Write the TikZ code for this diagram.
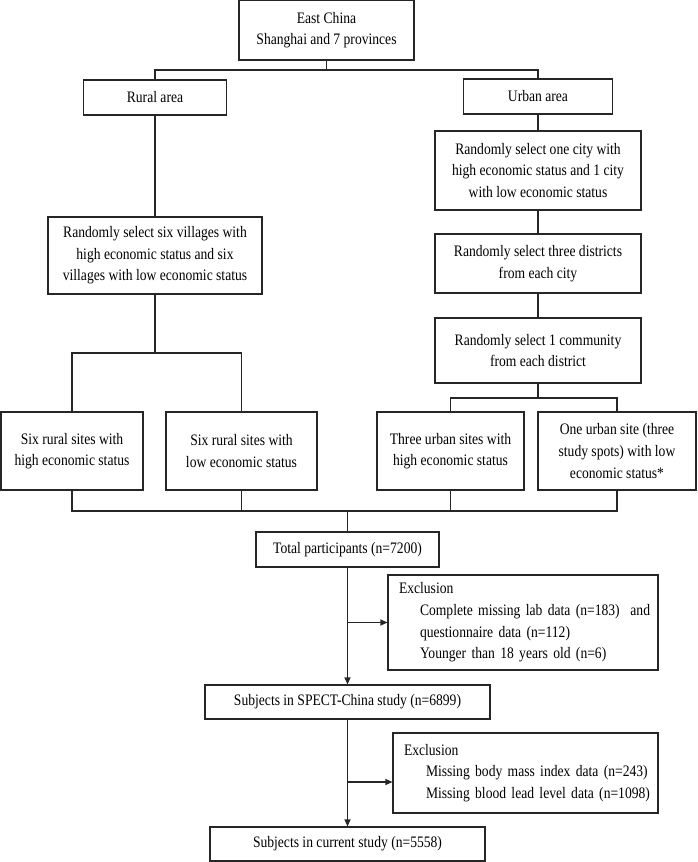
\documentclass[tikz,border=0pt]{standalone}
\usepackage{fontspec}
\setmainfont{Liberation Serif}[FakeStretch=0.85]
\usetikzlibrary{arrows.meta}

\begin{document}
\begin{tikzpicture}[x=1pt, y=-1pt,
		box/.style={draw=black!85, rectangle, line width=1.1pt, align=center, inner sep=2pt,
			font=\fontsize{16}{21.6}\selectfont},
		exbox/.style={draw=black!85, rectangle, line width=1.1pt, align=left, inner xsep=0pt,
			font=\fontsize{16}{21.6}\selectfont},
		link/.style={draw=black!85, line width=1.1pt},
		flow/.style={draw=black!85, line width=1.1pt, -{Triangle[length=7pt,width=6pt]}}]
		\useasboundingbox (0,0) rectangle (697,862);
		\def\xrural{155}   % x of the rural column
		\def\xurban{538}   % x of the urban column
		\def\xmain{347.5}  % x of the main flow
		\def\colw{206}     % width of the urban column boxes
		
		% Top of the tree
		\node[box, minimum width=175pt, minimum height=60pt] (top) at (326.5,30)
		{East China\\Shanghai and 7 provinces};
		\node[box, minimum width=143pt, minimum height=35pt] (rural) at (\xrural,97.5) {Rural area};
		\node[box, minimum width=149pt, minimum height=35pt] (urban) at (\xurban,96.5) {Urban area};
		
		% Rural branch
		\node[box, minimum width=214pt, minimum height=77pt] (rusel) at (\xrural,255.5)
		{Randomly select six villages with\\high economic status and six\\villages with low economic status};
		
		% Urban branch
		\node[box, minimum width=\colw pt, minimum height=79pt] (ursel) at (\xurban,170.5)
		{Randomly select one city with\\high economic status and 1 city\\with low economic status};
		\node[box, minimum width=\colw pt, minimum height=59pt] (dist) at (\xurban,263.5)
		{Randomly select three districts\\from each city};
		\node[box, minimum width=\colw pt, minimum height=65pt] (comm) at (\xurban,350.5)
		{Randomly select 1 community\\from each district};
		
		% Study sites in one row
		\foreach \name/\x/\w/\txt in {
			site1/72/142/{Six rural sites with\\high economic status},
			site2/241.5/151/{Six rural sites with\\low economic status},
			site3/450.5/147/{Three urban sites with\\high economic status},
			site4/617/158/{One urban site (three\\study spots) with low\\economic status*}} {
			\node[box, minimum width=\w pt, minimum height=78pt] (\name) at (\x,451) {\txt};
		}
		
		% Flow of participants
		\node[box, minimum width=183pt, minimum height=35pt] (total) at (\xmain,549.5)
		{Total participants (n=7200)};
		\node[exbox, text width=270pt, minimum height=95pt] (excl1) at (523,622.5)
		{\hspace*{11pt}Exclusion\\
			\hspace*{32pt}Complete missing lab data (n=183)~ and\\
			\hspace*{32pt}questionnaire data (n=112)\\
			\hspace*{32pt}Younger than 18 years old (n=6)};
		\node[box, minimum width=285pt, minimum height=34pt] (spect) at (\xmain,702)
		{Subjects in SPECT-China study (n=6899)};
		\node[exbox, text width=265pt, minimum height=80pt] (excl2) at (525.5,773)
		{\hspace*{11pt}Exclusion\\
			\hspace*{33pt}Missing body mass index data (n=243)\\
			\hspace*{33pt}Missing blood lead level data (n=1098)};
		\node[box, minimum width=275pt, minimum height=34pt] (curr) at (\xmain,844)
		{Subjects in current study (n=5558)};
		
		% Split points
		\coordinate (split) at (top.south |- 0,70);
		\coordinate (rsplit) at (\xrural,353);
		\coordinate (usplit) at (\xurban,398);
		\coordinate (merge) at (\xmain,511);
		
		% Tree connectors
		\draw[link] (top.south) -- (split);
		\draw[link] (rural.north) |- (split) -| (urban.north);
		\draw[link] (rural) -- (rusel);
		\draw[link] (urban) -- (ursel);
		\draw[link] (ursel) -- (dist);
		\draw[link] (dist) -- (comm);
		\draw[link] (rusel.south) -- (rsplit);
		\draw[link] (site1.north) |- (rsplit) -| (site2.north);
		\draw[link] (comm.south) -- (usplit);
		\draw[link] (site3.north) |- (usplit) -| (site4.north);
		
		% Merge of the sites
		\draw[link] (site1.south) |- (merge) -| (site4.south);
		\draw[link] (site2.south) -- (site2.south |- merge);
		\draw[link] (site3.south) -- (site3.south |- merge);
		\draw[link] (merge) -- (total.north);
		
		% Main flow with exclusions
		\draw[flow] (total) -- (spect);
		\draw[flow] (total.south |- excl1.west) -- (excl1.west);
		\draw[flow] (spect) -- (curr);
		\draw[flow] ([yshift=-9pt]excl2.west -| spect.south) -- ([yshift=-9pt]excl2.west);
	\end{tikzpicture}
\end{document}
